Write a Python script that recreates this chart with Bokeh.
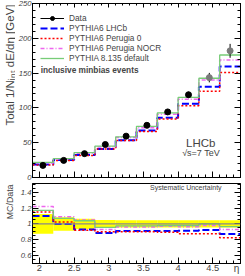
import math
from bokeh.plotting import figure
from bokeh.layouts import column, row
from bokeh.models import (Range1d, LinearAxis, Label, Legend, LegendItem,
                          SingleIntervalTicker, Span, ColumnDataSource, CustomJSTickFormatter)
from bokeh.embed import file_html
from bokeh.resources import INLINE

# ---------------- data ----------------
bin_edges = [1.9, 2.2, 2.5, 2.8, 3.1, 3.4, 3.7, 4.0, 4.3, 4.6, 4.9]
data_val = [17.4, 24.6, 34.3, 47.4, 59.4, 75.0, 94.2, 118.9, 143.5, 182.0]
data_err = [1.0, 1.0, 1.2, 1.5, 2.0, 2.5, 3.4, 4.3, 6.8, 10.0]
lhcb_val = [18.8, 25.2, 32.4, 41.0, 53.6, 67.7, 86.0, 105.8, 130.5, 159.5]
per0_val = [18.0, 24.4, 31.5, 40.8, 53.0, 66.2, 84.0, 103.0, 124.0, 150.7]
nocr_val = [21.0, 26.6, 35.0, 44.0, 57.5, 71.6, 90.9, 112.6, 140.0, 169.0]
py8_val = [21.7, 27.0, 35.8, 45.0, 58.5, 73.5, 92.8, 115.0, 142.6, 176.0]

lhcb_ratio = [1.10, 1.00, 0.93, 0.885, 0.91, 0.91, 0.91, 0.915, 0.924, 0.873]
per0_ratio = [1.15, 1.025, 0.92, 0.90, 0.90, 0.90, 0.895, 0.877, 0.877, 0.826]
nocr_ratio = [1.22, 1.09, 1.05, 0.93, 0.96, 0.96, 0.97, 0.965, 0.98, 0.93]
py8_ratio = [1.17, 1.07, 1.04, 0.955, 0.975, 0.975, 0.98, 0.98, 1.00, 0.966]
syst_unc = [0.125, 0.085, 0.065, 0.05, 0.045, 0.045, 0.045, 0.045, 0.045, 0.045]

series_names = ["PYTHIA6 LHCb", "PYTHIA6 Perugia 0", "PYTHIA6 Perugia NOCR", "PYTHIA 8.135 default"]
x_tick_labels = {2: "2", 3: "3", 4: "4"}
y_ratio_tick_labels = {1: "1"}

FONT = "Liberation Sans"
styles = [
    dict(line_color="#0000ff", line_width=2.0, line_dash="7 3"),
    dict(line_color="#ff0000", line_width=1.5, line_dash="2 2"),
    dict(line_color="#ee66ee", line_width=1.5, line_dash="4 2 1 2"),
    dict(line_color="#77cc77", line_width=1.3, line_dash="solid"),
]

centers = [(a + b) / 2 for a, b in zip(bin_edges[:-1], bin_edges[1:])]
blank = CustomJSTickFormatter(code="return ''")


def step_y(vals):
    return list(vals) + [vals[-1]]


def style_axis(ax, labels=True, italic=False, size="7.7px"):
    ax.axis_line_color = "black"
    ax.major_tick_in = 6
    ax.major_tick_out = 0
    ax.minor_tick_in = 3
    ax.minor_tick_out = 0
    ax.major_tick_line_color = "black"
    ax.minor_tick_line_color = "black"
    if labels:
        ax.major_label_text_font = FONT
        ax.major_label_text_font_size = size
        ax.major_label_text_font_style = "italic" if italic else "normal"
        ax.major_label_standoff = 1
    else:
        ax.formatter = blank
        ax.major_label_standoff = 0


def make_fig(h, yr, mb_top, mb_bottom):
    p = figure(width=230, height=h, x_range=Range1d(1.9, 4.9), y_range=yr,
               toolbar_location=None, output_backend="svg",
               min_border_left=15, min_border_right=5,
               min_border_top=mb_top, min_border_bottom=mb_bottom)
    p.xgrid.visible = False
    p.ygrid.visible = False
    p.outline_line_color = "black"
    p.outline_line_width = 1
    p.background_fill_color = "white"
    p.border_fill_color = "white"
    return p


# ---------------- strip with the vertical axis titles ----------------
tf = figure(width=15, height=276, x_range=Range1d(0, 15), y_range=Range1d(276, 0),
            toolbar_location=None, output_backend="svg",
            min_border_left=0, min_border_right=0, min_border_top=0, min_border_bottom=0)
tf.axis.visible = False
tf.grid.visible = False
tf.outline_line_color = None
tf.add_layout(Label(x=9.5, y=4, text="Total 1/N\u1d62\u2099\u209c dE/d\u03b7 [GeV]",
                    angle=math.pi / 2, text_align="right", text_baseline="middle",
                    text_font=FONT, text_font_size="11.5px"))
tf.add_layout(Label(x=9, y=184, text="MC/Data", angle=math.pi / 2, text_align="right",
                    text_baseline="middle", text_font=FONT, text_font_size="8.8px"))

# ---------------- top panel ----------------
p1 = make_fig(182, Range1d(0, 250), 3, 5)
xt = SingleIntervalTicker(interval=0.5, num_minor_ticks=5)
yt1 = SingleIntervalTicker(interval=50, num_minor_ticks=5)
p1.xaxis.ticker = xt
p1.yaxis.ticker = yt1
style_axis(p1.xaxis[0], labels=False)
style_axis(p1.yaxis[0], labels=True, italic=True)
ra = LinearAxis(ticker=yt1)
style_axis(ra, labels=False)
p1.add_layout(ra, "right")
ta = LinearAxis(ticker=xt)
style_axis(ta, labels=False)
ta.major_tick_in = 4
ta.minor_tick_in = 2
p1.add_layout(ta, "above")

mc_vals = [lhcb_val, per0_val, nocr_val, py8_val]
items = []
step_rs = []
for vals, st in zip(mc_vals, styles):
    r = p1.step(x=bin_edges, y=step_y(vals), mode="after", **st)
    step_rs.append(r)

src = ColumnDataSource(dict(
    x=centers, y=data_val,
    lo=[v - e for v, e in zip(data_val, data_err)],
    hi=[v + e for v, e in zip(data_val, data_err)],
    c=["black"] * 8 + ["#7a7a7a"] * 2,
))
err_r = p1.segment(x0="x", y0="lo", x1="x", y1="hi", source=src, line_color="black", line_width=1)
pts_r = p1.scatter(x="x", y="y", source=src, size=6, fill_color="c", line_color="c", marker="circle")

items.append(LegendItem(label="Data", renderers=[err_r, pts_r]))
for name, r in zip(series_names, step_rs):
    items.append(LegendItem(label=name, renderers=[r]))

leg = Legend(items=items, location=(8, 114.5), orientation="vertical",
             glyph_width=24, glyph_height=10, label_height=10, spacing=0,
             label_standoff=5, padding=0, margin=0,
             label_text_font=FONT, label_text_font_size="8.3px",
             border_line_color=None, background_fill_alpha=0)
p1.add_layout(leg)

p1.add_layout(Label(x=2.019, y=154.2, text="inclusive minbias events", text_font=FONT,
                    text_font_size="8.3px", text_font_style="bold", text_baseline="middle"))
p1.add_layout(Label(x=4.326, y=49.6, text="LHCb", text_font=FONT, text_font_size="11.5px",
                    text_align="center", text_baseline="middle"))
p1.add_layout(Label(x=4.33, y=35.1, text="\u221As=7 TeV", text_font=FONT, text_font_size="9px",
                    text_align="center", text_baseline="middle"))

# ---------------- ratio panel ----------------
p2 = make_fig(94, Range1d(0.5, 1.51), 1, 13)
yt2 = SingleIntervalTicker(interval=0.2, num_minor_ticks=4)
p2.xaxis.ticker = xt
p2.yaxis.ticker = yt2
style_axis(p2.xaxis[0], labels=True, italic=False, size="9.3px")
p2.xaxis.major_label_overrides = x_tick_labels
p2.xaxis.axis_label = "\u2003" * 20 + "\u03b7"
p2.xaxis.axis_label_text_font = FONT
p2.xaxis.axis_label_text_font_size = "10px"
p2.xaxis.axis_label_text_font_style = "normal"
p2.xaxis.axis_label_standoff = -11
style_axis(p2.yaxis[0], labels=True, italic=True)
p2.yaxis.major_label_overrides = y_ratio_tick_labels
ra2 = LinearAxis(ticker=yt2)
style_axis(ra2, labels=False)
p2.add_layout(ra2, "right")

band = p2.quad(left=bin_edges[:-1], right=bin_edges[1:],
               bottom=[1 - u for u in syst_unc], top=[1 + u for u in syst_unc],
               fill_color="#ffff00", line_color=None)
p2.add_layout(Span(location=1, dimension="width", line_color="#888888", line_width=1.2))
for vals, st in zip([lhcb_ratio, per0_ratio, nocr_ratio, py8_ratio], styles):
    p2.step(x=bin_edges, y=step_y(vals), mode="after", **st)

leg_r = p2.quad(left=[], right=[], bottom=[], top=[], fill_color="#ffff00", line_color="#888888", line_width=1)
leg2 = Legend(items=[LegendItem(label="Systematic Uncertainty", renderers=[leg_r])],
              location=(97, 72), glyph_width=16, glyph_height=6, label_height=8,
              label_standoff=5, padding=0, margin=0, spacing=0,
              label_text_font=FONT, label_text_font_size="7px",
              border_line_color=None, background_fill_alpha=0)
p2.add_layout(leg2)

layout = row(tf, column(p1, p2, spacing=0), spacing=0)
open("out.html", "w").write(file_html(layout, INLINE))
